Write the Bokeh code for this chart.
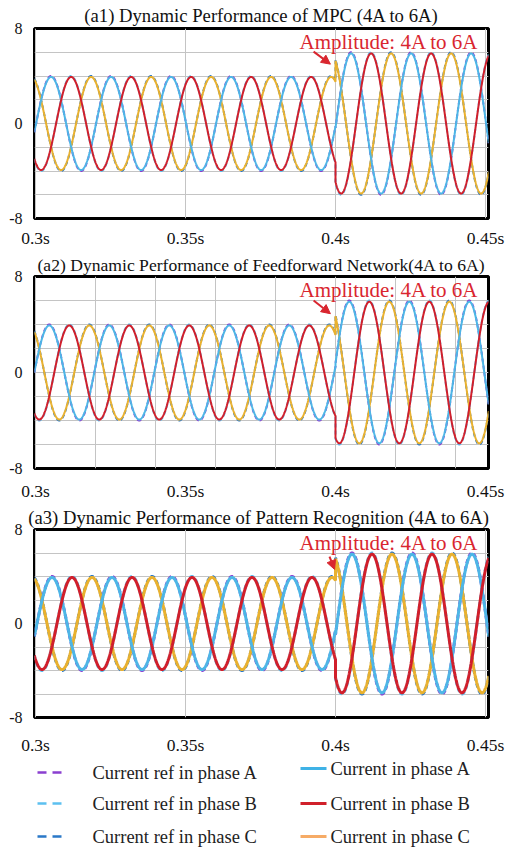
import numpy as np
from bokeh.plotting import figure
from bokeh.models import Range1d, FixedTicker, Arrow, NormalHead
from bokeh.layouts import column
from bokeh.embed import file_html
from bokeh.resources import INLINE
from bokeh.core.properties import value

# ---------------- data ----------------
PANEL_TITLES = [
    "(a1) Dynamic Performance of MPC (4A to 6A)",
    "(a2) Dynamic Performance of Feedforward Network(4A to 6A)",
    "(a3) Dynamic Performance of  Pattern Recognition (4A to 6A)",
]
ANNOTATION = "Amplitude: 4A to 6A"
X_TICKS = [0.3, 0.35, 0.4, 0.45]
X_TICK_LABELS = ["0.3s", "0.35s", "0.4s", "0.45s"]
Y_TICKS = [-8, 0, 8]
Y_TICK_LABELS = ["-8", "0", "8"]
Y_GRID = [-6, -4, -2, 0, 2, 4, 6]
X_GRID = [
    [0.3, 0.35, 0.4, 0.45],
    [0.30, 0.32, 0.34, 0.36, 0.38, 0.40, 0.42, 0.44],
    [0.3, 0.35, 0.4, 0.45],
]
T_START, T_END = 0.3, 0.451
FREQ_HZ = 50.0                      # grid frequency (one period = 0.02 s)
STEP_TIME = 0.4                     # amplitude step instant
REF_AMPLITUDE = [4.0, 6.0]          # reference: before / after the step (A)
MEAS_AMPLITUDE = [3.92, 5.9]        # measured currents: before / after (A)
PEAK_TIME_A = [0.3052, 0.3046, 0.3055]   # time of a phase-A peak, per panel
PHASE_SHIFT_DEG = {"A": 0.0, "B": -120.0, "C": 120.0}
# arrow (tail x, tail y, head x, head y) per panel
ARROWS = [(0.3927, 6.05, 0.3983, 5.0), (0.3927, 6.0, 0.3983, 4.9), (0.398, 5.7, 0.3997, 4.6)]

REF_LABELS = ["Current ref in phase A", "Current ref in phase B", "Current ref in phase C"]
CUR_LABELS = ["Current in phase A", "Current in phase B", "Current in phase C"]

# ---------------- styles ----------------
FONT = "Liberation Serif"
COL_CUR = {"A": "#4db6e6", "B": "#d11f2b", "C": "#e9b12f"}
COL_REF = {"A": "#8a3fd0", "B": "#5cc0f0", "C": "#2a78c8"}
LEG_CUR = ["#3fb2e6", "#d0202a", "#f6ab66"]
LEG_REF = ["#8a3fd0", "#5cc0f0", "#2a78c8"]
RED_TXT = "#d9262f"

FIG_W = 505
BL, BR = 34, 17
PANEL_H = [250, 253, 254]
BORDER_TOP = [26, 24, 24]
BORDER_BOTTOM = [27, 32, 34]
XLABEL_STANDOFF = [9, 12, 17]
TITLE_SIZE = ["18.7px", "17.6px", "18.6px"]
TITLE_STANDOFF = [5, 4, 3]
LINE_W = [2.0, 2.0, 3.0]


def waveform(t, peak_a, phase, amps):
    amp = np.where(t < STEP_TIME, amps[0], amps[1])
    w = 2 * np.pi * FREQ_HZ
    return amp * np.cos(w * (t - peak_a) + np.deg2rad(PHASE_SHIFT_DEG[phase]))


# time grid with a duplicated point at the step (vertical jump)
t_before = np.arange(T_START - 0.0004, STEP_TIME, 0.0001)
t_after = np.arange(STEP_TIME, T_END + 0.0002, 0.0001)
t_all = np.concatenate([t_before, [STEP_TIME - 1e-9], t_after])

children = []
for i in range(3):
    p = figure(width=FIG_W, height=PANEL_H[i], output_backend="svg", toolbar_location=None,
               x_range=Range1d(T_START - 1 / 3000, T_END), y_range=Range1d(-8, 8),
               min_border_left=BL, min_border_right=BR,
               min_border_top=BORDER_TOP[i], min_border_bottom=BORDER_BOTTOM[i],
               background_fill_color="white", border_fill_color="white")
    p.title.text = PANEL_TITLES[i]
    p.title.align = "center"
    p.title.text_font = FONT
    p.title.text_font_style = "normal"
    p.title.text_font_size = TITLE_SIZE[i]
    p.title.text_color = "#111111"
    p.title.standoff = TITLE_STANDOFF[i]
    p.title.offset = 0

    p.outline_line_color = "black"
    p.outline_line_width = 3
    p.outline_line_alpha = 1

    for ax, ticks, labels, size in ((p.xaxis, X_TICKS, X_TICK_LABELS, "17.5px"),
                                    (p.yaxis, Y_TICKS, Y_TICK_LABELS, "16px")):
        ax.ticker = FixedTicker(ticks=ticks)
        ax.major_label_overrides = {tk: lb for tk, lb in zip(ticks, labels)}
        ax.axis_line_color = None
        ax.major_tick_line_color = None
        ax.minor_tick_line_color = None
        ax.major_tick_out = 0
        ax.major_tick_in = 0
        ax.major_label_text_font = FONT
        ax.major_label_text_font_size = size
        ax.major_label_text_color = "#111111"
    p.xaxis.major_label_standoff = XLABEL_STANDOFF[i]
    p.yaxis.major_label_standoff = 12

    p.xgrid.ticker = FixedTicker(ticks=X_GRID[i])
    p.ygrid.ticker = FixedTicker(ticks=Y_GRID)
    p.xgrid.grid_line_color = "#c4c4c4"
    p.ygrid.grid_line_color = "#c4c4c4"
    p.xgrid.grid_line_width = 1
    p.ygrid.grid_line_width = 1

    # references (dashed), underneath
    for ph in ("A", "B", "C"):
        p.line(t_all, waveform(t_all, PEAK_TIME_A[i], ph, REF_AMPLITUDE),
               line_color=COL_REF[ph], line_width=LINE_W[i], line_dash="4 3")
    # measured currents
    for ph in ("C", "A", "B"):
        p.line(t_all, waveform(t_all, PEAK_TIME_A[i], ph, MEAS_AMPLITUDE),
               line_color=COL_CUR[ph], line_width=LINE_W[i])

    x0, y0, x1, y1 = ARROWS[i]
    p.add_layout(Arrow(end=NormalHead(size=9, fill_color=RED_TXT, line_color=RED_TXT),
                       x_start=x0, y_start=y0, x_end=x1, y_end=y1,
                       line_color=RED_TXT, line_width=2))
    p.text(x=[0.388], y=[6.85], text=[ANNOTATION], text_color=RED_TXT,
           text_font=value(FONT), text_font_size="21px",
           text_align="left", text_baseline="middle")
    children.append(p)

# ---------------- legend ----------------
LEG_H = 92
lg = figure(width=FIG_W, height=LEG_H, output_backend="svg", toolbar_location=None,
            x_range=Range1d(BL, FIG_W - BR), y_range=Range1d(LEG_H, 0),
            min_border_left=BL, min_border_right=BR, min_border_top=0, min_border_bottom=0,
            outline_line_color=None, background_fill_color="white", border_fill_color="white")
lg.axis.visible = False
lg.grid.visible = False
rows_left = [15, 46, 79]
rows_right = [11, 46, 79]
for k in range(3):
    lg.line([37, 63], [rows_left[k]] * 2, line_color=LEG_REF[k], line_width=2.5, line_dash="9 6")
    lg.text(x=[92], y=[rows_left[k]], text=[REF_LABELS[k]], text_font=value(FONT),
            text_font_size="18.5px", text_color="#222222", text_baseline="middle")
    lg.line([300, 326], [rows_right[k]] * 2, line_color=LEG_CUR[k], line_width=3)
    lg.text(x=[330], y=[rows_right[k]], text=[CUR_LABELS[k]], text_font=value(FONT),
            text_font_size="18.5px", text_color="#222222", text_baseline="middle")
children.append(lg)

layout = column(*children, spacing=0)
open("out.html", "w").write(file_html(layout, INLINE))
